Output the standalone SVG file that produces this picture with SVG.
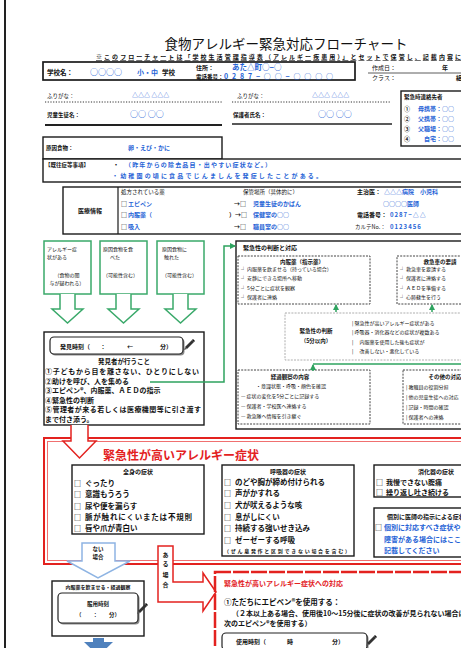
<svg xmlns="http://www.w3.org/2000/svg" width="461" height="648" viewBox="0 0 461 648">
<style>
text{font-family:"Noto Sans CJK JP","Noto Sans",sans-serif;fill:#111}
.b{font-weight:bold}
.bl{fill:#1f63d6;font-weight:bold}
.rd{fill:#e3221f;font-weight:bold}
.m{text-anchor:middle}
.e{text-anchor:end}
.box{fill:#fff;stroke:#1a1a1a;stroke-width:1.4}
.gbox{fill:#fff;stroke:#3aa96a;stroke-width:1.5}
.dbox{fill:#fff;stroke:#444;stroke-width:1;stroke-dasharray:2 1.2}
.lbox{fill:#fff;stroke:#999;stroke-width:0.8;stroke-dasharray:2 1.2}
.gl{fill:none;stroke:#2ea35f;stroke-width:1.5}
.ban{fill:#fff;stroke:#222;stroke-width:1.2}
.sh{fill:#8a8a8a}
.s5{font-size:5px}.s55{font-size:5.5px}.s6{font-size:6px}.s65{font-size:6.5px}.s7{font-size:7px}.s75{font-size:7.5px}.s8{font-size:8px}
</style>
<defs>
<marker id="ga" markerWidth="6" markerHeight="6" refX="5" refY="3" orient="auto" markerUnits="userSpaceOnUse"><path d="M0,0 L6,3 L0,6 z" fill="#2ea35f"/></marker>
<g id="pencil"><path d="M-4,4 L3,-3 L5,-1 L-2,6 z" fill="#333"/><path d="M-4,4 L-5,7 L-2,6 z" fill="#555"/><path d="M3,-3 L4,-4 L6,-2 L5,-1 z" fill="#111"/></g>
</defs>
<rect width="461" height="648" fill="#fff"/>
<line x1="5" y1="0" x2="5" y2="648" stroke="#222" stroke-width="2"/>

<g id="title">
<text x="286" y="49" class="m" style="font-size:13.5px">食物アレルギー緊急対応フローチャート</text>
<text x="96" y="59" class="b s6" text-decoration="underline" textLength="365">※このフローチャートは「学校生活管理指導表（アレルギー疾患用）」とセットで保管し、記載内容に</text>
</g>

<g id="school">
<rect x="43" y="62" width="312" height="18" class="box" style="stroke-width:1.7"/>
<text x="47" y="75" class="b s65">学校名：</text>
<text x="90" y="75" class="bl s8">○○○○</text>
<text x="137" y="75" class="bl s7">小・中</text>
<text x="162" y="75" class="b s65">学校</text>
<text x="196" y="70" class="b s6">住所：</text>
<text x="232" y="70" class="bl s75">あた△町○−○</text>
<text x="196" y="79" class="b s55">電話番号：</text>
<text x="224" y="79" class="bl s7" textLength="109">0287−○○−○○○○</text>
</g>

<g id="created">
<text x="372" y="70" class="s6">作成日：</text>
<text x="442" y="70" class="b s6">年</text>
<line x1="368" y1="73" x2="461" y2="73" stroke="#333" stroke-width="0.8"/>
<text x="372" y="80" class="s6">クラス：</text>
<text x="456" y="80" class="b s6">組</text>
</g>

<g id="names">
<text x="47" y="98" class="s55">ふりがな：</text>
<text x="132" y="97" class="bl s6">△△△ △△△</text>
<line x1="45" y1="102" x2="222" y2="102" stroke="#333" stroke-dasharray="1.2 1.5"/>
<text x="237" y="98" class="s55">ふりがな：</text>
<text x="312" y="97" class="bl s6">△△△ △△△</text>
<line x1="232" y1="102" x2="390" y2="102" stroke="#333" stroke-dasharray="1.2 1.5"/>
<text x="47" y="117" class="b s55">児童生徒名：</text>
<text x="130" y="117" class="bl s8">○○ ○○</text>
<line x1="45" y1="125" x2="222" y2="125" stroke="#222" stroke-width="1.8"/>
<text x="233" y="117" class="b s55">保護者氏名：</text>
<text x="318" y="117" class="bl s8">○○ ○○</text>
<line x1="232" y1="124" x2="392" y2="124" stroke="#222" stroke-width="1.6"/>
</g>

<g id="contacts">
<rect x="401" y="91" width="70" height="55" class="box"/>
<text x="404" y="99" class="b s55">緊急時連絡先者</text>
<text x="404" y="111" class="b s6">①</text><text x="436" y="111" class="bl s6 e">母携帯</text><text x="436" y="111" class="bl s6">：○○</text>
<text x="404" y="121" class="b s6">②</text><text x="436" y="121" class="bl s6 e">父携帯</text><text x="436" y="121" class="bl s6">：○○</text>
<text x="404" y="131" class="b s6">③</text><text x="436" y="131" class="bl s6 e">父職場</text><text x="436" y="131" class="bl s6">：○○</text>
<text x="404" y="141" class="b s6">④</text><text x="436" y="141" class="bl s6 e">自宅</text><text x="436" y="141" class="bl s6">：○○</text>
</g>

<g id="allergen">
<rect x="43" y="137" width="179" height="22" class="box"/>
<text x="46" y="150" class="b s55">原因食物：</text>
<text x="128" y="150" class="bl s6">卵・えび・かに</text>
</g>

<g id="history">
<rect x="43" y="159" width="430" height="23" class="box"/>
<text x="45" y="167" class="b s55">【既往症等事項】</text>
<text x="113" y="167" class="b s6">・</text>
<text x="125" y="167" class="bl s6" textLength="146">（昨年からの除去品目・出やすい症状など。）</text>
<text x="112" y="178" class="bl s6" textLength="210">・幼稚園の頃に食品でじんましんを発症したことがある。</text>
</g>

<g id="medical">
<rect x="63" y="187" width="410" height="47" class="box"/>
<line x1="118" y1="187" x2="118" y2="234" stroke="#1a1a1a" stroke-width="1.2"/>
<text x="90" y="213" class="b s6 m">医療情報</text>
<text x="121" y="194" class="s55">処方されている薬</text>
<text x="121" y="206" class="b s6">□</text><text x="128" y="206" class="bl s6">エピペン</text>
<text x="121" y="217" class="b s6">□</text><text x="128" y="217" class="bl s6">内服薬（</text>
<text x="121" y="229" class="b s6">□</text><text x="128" y="229" class="bl s6">吸入</text>
<text x="243" y="194" class="s55">保管場所（具体的に）</text>
<text x="234" y="206" class="b s6">→□</text><text x="253" y="206" class="bl s6">児童生徒のかばん</text>
<text x="229" y="217" class="b s6">）→□</text><text x="253" y="217" class="bl s6">保健室の○○</text>
<text x="234" y="229" class="b s6">→□</text><text x="253" y="229" class="bl s6">職員室の○○</text>
<text x="357" y="194" class="b s6">主治医：</text><text x="384" y="194" class="bl s6">△△△病院　小児科</text>
<text x="383" y="206" class="bl s6">○○○○医師</text>
<text x="357" y="217" class="b s6">電話番号：</text><text x="390" y="217" class="bl s6" letter-spacing="1">0287−△△</text>
<text x="355" y="229" class="s55">カルテNo.：</text><text x="390" y="229" class="bl s6" letter-spacing="1">0123456</text>
</g>

<g id="trigger1">
<rect x="44" y="241" width="47" height="53" class="gbox"/>
<text x="47" y="251" class="s5">アレルギー症</text>
<text x="47" y="259" class="s5">状がある</text>
<text x="67" y="277" class="s5 m">（食物の関</text>
<text x="67" y="285" class="s5 m">与が疑われる）</text>
<polyline points="60,294 60,309 52,309 67.5,323 83,309 75,309 75,294" fill="#fff" stroke="#3aa96a" stroke-width="1.5"/>
</g>
<g id="trigger2">
<rect x="100" y="241" width="47" height="53" class="gbox"/>
<text x="103" y="251" class="s5">原因食物を食</text>
<text x="110" y="259" class="s5">べた</text>
<text x="103" y="277" class="s5">（可能性含む）</text>
<polyline points="116,294 116,309 108,309 123.5,323 139,309 131,309 131,294" fill="#fff" stroke="#3aa96a" stroke-width="1.5"/>
</g>
<g id="trigger3">
<rect x="157" y="241" width="47" height="53" class="gbox"/>
<text x="162" y="251" class="s5">原因食物に</text>
<text x="164" y="259" class="s5">触れた</text>
<text x="162" y="277" class="s5">（可能性含む）</text>
<polyline points="173,294 173,309 165,309 180.5,323 196,309 188,309 188,294" fill="#fff" stroke="#3aa96a" stroke-width="1.5"/>
</g>

<g id="finder">
<rect x="44" y="332" width="160" height="93" class="box"/>
<rect x="51.5" y="338.5" width="133" height="17" rx="4" class="sh"/>
<rect x="50" y="337" width="133" height="17" rx="4" class="ban"/>
<text x="60" y="349" class="b s6">発見時刻（</text>
<text x="100" y="349" class="b s6">：</text>
<text x="127" y="349" class="b s6">←</text>
<text x="160" y="349" class="b s6">分）</text>
<use href="#pencil" x="189" y="343"/>
<text x="124" y="364" class="b s65 m">発見者が行うこと</text>
<text x="45" y="374" class="b s7" textLength="154">①子どもから目を離さない、ひとりにしない</text>
<text x="45" y="383.5" class="b s7">②助けを呼び、人を集める</text>
<text x="45" y="393" class="b s7">③エピペン®、内服薬、ＡＥＤの指示</text>
<text x="45" y="402.5" class="b s7">④緊急性の判断</text>
<text x="45" y="412" class="b s7" textLength="156">⑤管理者が来る若しくは医療機関等に引き渡す</text>
<text x="45" y="421.5" class="b s7">まで付き添う。</text>
</g>

<g id="judge">
<rect x="236" y="241" width="240" height="188" class="box"/>
<text x="243" y="250" class="b s6">緊急性の判断と対応</text>
<rect x="238" y="256" width="132" height="48" class="dbox"/>
<text x="302" y="264" class="b s55 m">内服薬（指示薬）</text>
<text x="241" y="271" class="s5">┘ 内服薬を飲ませる（持っている場合）</text>
<text x="241" y="280" class="s5">┘ 安静にできる場所へ移動</text>
<text x="241" y="290" class="s5">┘ 5分ごとに症状を観察</text>
<text x="241" y="299" class="s5">┘ 保護者に連絡</text>
<rect x="397" y="256" width="80" height="48" class="dbox"/>
<text x="440" y="264" class="b s55 m">救急車の要請</text>
<text x="400" y="271" class="s5">┘ 救急車を要請する</text>
<text x="400" y="280" class="s5">┘ 保護者に連絡する</text>
<text x="400" y="290" class="s5">┘ ＡＥＤを準備する</text>
<text x="400" y="299" class="s5">┘ 心肺蘇生を行う</text>
<rect x="285" y="313" width="190" height="47" class="lbox"/>
<text x="316" y="333" class="b s55 m">緊急性の判断</text>
<text x="316" y="343" class="b s55 m">（5分以内）</text>
<text x="352" y="325" class="s5">| 緊急性が高いアレルギー症状がある</text>
<text x="352" y="334" class="s5">| 呼吸器・消化器などの症状が複数ある</text>
<text x="352" y="344" class="s5">| 　内服薬を使用した後も症状が</text>
<text x="352" y="353" class="s5">| 　改善しない・悪化している</text>
<rect x="238" y="370" width="132" height="54" class="dbox"/>
<text x="290" y="379" class="b s55 m">経過観察の内容</text>
<text x="256" y="388" class="s5">・意識状態・呼吸・顔色を確認</text>
<text x="241" y="398" class="s5">— 症状の変化を5分ごとに記録する</text>
<text x="241" y="408" class="s5">— 保護者・学校医へ連絡する</text>
<text x="241" y="418" class="s5">— 救急隊へ情報を引き継ぐ</text>
<rect x="403" y="370" width="80" height="54" class="dbox"/>
<text x="445" y="379" class="b s55 m">その他の対応</text>
<text x="406" y="389" class="s5">| 教職員の役割分担</text>
<text x="406" y="399" class="s5">| 他の児童生徒への対応</text>
<text x="406" y="409" class="s5">| 記録・時間の確認</text>
<text x="406" y="419" class="s5">| 保護者への連絡</text>
</g>

<g id="connectors">
<polyline points="150,382 224,382 224,246 235,246" class="gl" marker-end="url(#ga)"/>
<line x1="336" y1="312" x2="336" y2="305" class="gl" marker-end="url(#ga)"/>
<line x1="432" y1="312" x2="432" y2="305" class="gl" marker-end="url(#ga)"/>
<line x1="313" y1="364" x2="461" y2="364" class="gl"/>
<line x1="313" y1="371" x2="313" y2="365" class="gl" marker-end="url(#ga)"/>
</g>

<g id="urgent">
<rect x="44" y="438" width="430" height="126" fill="none" stroke="#e3221f" stroke-width="2"/>
<rect x="47.5" y="441.5" width="423" height="119" fill="none" stroke="#f07070" stroke-width="1"/>
<polyline points="71,425 71,441 63,441 79.5,458 96,441 88,441 88,425" fill="#fff" stroke="#e3221f" stroke-width="1.5"/>
<text x="103" y="460" class="rd" style="font-size:12px">緊急性が高いアレルギー症状</text>
</g>

<g id="whole">
<rect x="72" y="465" width="132" height="69" class="box"/>
<text x="138" y="474" class="b s6 m">全身の症状</text>
<text x="74" y="486" class="b s7">□</text><text x="85" y="486" class="b s75">ぐったり</text>
<text x="74" y="497" class="b s7">□</text><text x="85" y="497" class="b s75">意識もうろう</text>
<text x="74" y="509" class="b s7">□</text><text x="85" y="509" class="b s75">尿や便を漏らす</text>
<text x="74" y="520" class="b s7">□</text><text x="85" y="520" class="b s75" textLength="107">脈が触れにくいまたは不規則</text>
<text x="74" y="531" class="b s7">□</text><text x="85" y="531" class="b s75">唇や爪が青白い</text>
</g>

<g id="resp">
<rect x="222" y="465" width="132" height="91" class="box"/>
<text x="288" y="474" class="b s6 m">呼吸器の症状</text>
<text x="224" y="485" class="b s7">□</text><text x="235" y="485" class="b s75">のどや胸が締め付けられる</text>
<text x="224" y="496" class="b s7">□</text><text x="235" y="496" class="b s75">声がかすれる</text>
<text x="224" y="508" class="b s7">□</text><text x="235" y="508" class="b s75">犬が吠えるような咳</text>
<text x="224" y="520" class="b s7">□</text><text x="235" y="520" class="b s75">息がしにくい</text>
<text x="224" y="531" class="b s7">□</text><text x="235" y="531" class="b s75">持続する強いせき込み</text>
<text x="224" y="543" class="b s7">□</text><text x="235" y="543" class="b s75">ゼーゼーする呼吸</text>
<text x="224" y="553" class="b s5" textLength="126">（ぜん息発作と区別できない場合を含む）</text>
</g>

<g id="digest">
<rect x="374" y="465" width="100" height="32" class="box"/>
<text x="436" y="474" class="b s6 m">消化器の症状</text>
<text x="376" y="485" class="b s7">□</text><text x="386" y="485" class="b s7">我慢できない腹痛</text>
<text x="376" y="495" class="b s7">□</text><text x="386" y="495" class="b s7">繰り返し吐き続ける</text>
</g>

<g id="individual">
<rect x="374" y="508" width="100" height="49" class="box"/>
<text x="387" y="519" class="b s6">個別に医師の指示による症状</text>
<text x="375" y="530" class="b s7">□</text><text x="384" y="530" class="bl s7">個別に対応すべき症状や</text>
<text x="384" y="542" class="bl s7">障害がある場合にはここに</text>
<text x="384" y="553" class="bl s7">記載してください</text>
</g>

<g id="no-case">
<polygon points="82,543 115,543 115,561 130,561 98,578 67,561 82,561" fill="#fff" stroke="#8eb4e3" stroke-width="1.5"/>
<text x="98" y="551" class="b s55 m">ない</text>
<text x="98" y="559" class="b s55 m">場合</text>
</g>

<g id="yes-case">
<polygon points="158,546 173,546 173,582 203,582 203,573 216,592 203,611 203,602 158,602" fill="#fff" stroke="#e3221f" stroke-width="1.5"/>
<text x="165.5" y="557" class="b s6 m">あ</text>
<text x="165.5" y="566" class="b s6 m">る</text>
<text x="165.5" y="577" class="b s6 m">場</text>
<text x="165.5" y="587" class="b s6 m">合</text>
</g>

<g id="medicate">
<rect x="52" y="581" width="92" height="55" class="box"/>
<text x="98" y="589" class="b s5 m">内服薬を飲ませる・経過観察</text>
<rect x="59.5" y="594.5" width="80" height="30" rx="4" class="sh"/>
<rect x="58" y="593" width="80" height="30" rx="4" class="ban"/>
<text x="98" y="606" class="b s55 m">服用時刻</text>
<text x="98" y="617" class="b s55 m">（　　：　　分）</text>
<use href="#pencil" x="142" y="607"/>
<polygon points="93,638 104,638 104,642 113,642 98.5,656 84,642 93,642" fill="#4f81bd"/>
</g>

<g id="response">
<rect x="215" y="572" width="262" height="90" fill="none" stroke="#e3221f" stroke-width="2.5" stroke-dasharray="16 2"/>
<text x="224" y="586" class="rd s7">緊急性が高いアレルギー症状への対応</text>
<text x="224" y="605" class="b s75">①ただちにエピペン®を使用する：</text>
<text x="232" y="616" class="b s7">（２本以上ある場合、使用後10～15分後に症状の改善が見られない場合は</text>
<text x="224" y="626" class="b s7">次のエピペン®を使用する）</text>
<rect x="223.5" y="634.5" width="145" height="17" rx="4" class="sh"/>
<rect x="222" y="633" width="145" height="17" rx="4" class="ban"/>
<text x="236" y="644" class="b s6">使用時刻（</text>
<text x="275" y="644" class="b s6">　　時</text>
<text x="320" y="644" class="b s6">　　分）</text>
<use href="#pencil" x="371" y="639"/>
</g>
</svg>
